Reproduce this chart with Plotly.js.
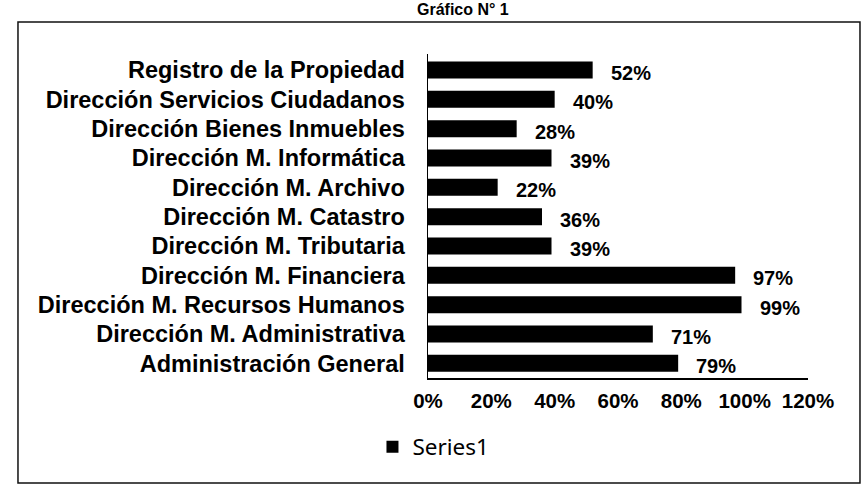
<!DOCTYPE html>
<html>
<head>
<meta charset="utf-8">
<script src="https://cdn.plot.ly/plotly-3.0.1.min.js"></script>
<style>
html,body{margin:0;padding:0;background:#fff;}
#chart{width:863px;height:494px;}
</style>
</head>
<body>
<div id="chart"></div>
<script>
const categories = [
  "Registro de la Propiedad",
  "Dirección Servicios Ciudadanos",
  "Dirección Bienes Inmuebles",
  "Dirección M. Informática",
  "Dirección M. Archivo",
  "Dirección M. Catastro",
  "Dirección M. Tributaria",
  "Dirección M. Financiera",
  "Dirección M. Recursos Humanos",
  "Dirección M. Administrativa",
  "Administración General"
];
const series1 = [0.52, 0.40, 0.28, 0.39, 0.22, 0.36, 0.39, 0.97, 0.99, 0.71, 0.79];
const xTickValues = [0, 0.2, 0.4, 0.6, 0.8, 1.0, 1.2];
const seriesName = "Series1";
const chartTitle = "Gráfico N° 1";

const boldFont = {family: "Liberation Sans, Arial, sans-serif", color: "#000", weight: 700};

const labelAnnotations = series1.map((v, i) => ({
  x: v, y: categories[i], xref: "x", yref: "y",
  text: Math.round(v * 100) + "%",
  showarrow: false, xanchor: "left", yanchor: "middle", xshift: 16, yshift: -3,
  font: Object.assign({}, boldFont, {size: 20})
}));

const data = [{
  type: "bar",
  orientation: "h",
  x: series1,
  y: categories,
  name: seriesName,
  marker: {color: "#000"},
  showlegend: true,
  hoverinfo: "skip"
}];

const layout = {
  width: 863, height: 494,
  margin: {l: 428, r: 55, t: 54, b: 116},
  paper_bgcolor: "#fff",
  plot_bgcolor: "#fff",
  bargap: 0.42,
  showlegend: true,
  legend: {
    orientation: "h",
    xref: "container", yref: "container",
    x: 0.4316, xanchor: "left",
    y: 0.095, yanchor: "middle",
    font: {family: "Noto Sans, Open Sans, sans-serif", size: 22.5, color: "#000"},
    bgcolor: "rgba(0,0,0,0)"
  },
  xaxis: {
    range: [0, 1.2],
    tickvals: xTickValues,
    tickformat: ".0%",
    showgrid: false,
    zeroline: false,
    showline: true,
    linecolor: "#000",
    linewidth: 1.5,
    ticks: "",
    ticklabelstandoff: 4,
    tickfont: Object.assign({}, boldFont, {size: 20.5}),
    fixedrange: true
  },
  yaxis: {
    type: "category",
    autorange: "reversed",
    showgrid: false,
    zeroline: false,
    showline: true,
    linecolor: "#000",
    linewidth: 1.5,
    ticks: "",
    ticklabelstandoff: 17,
    tickfont: Object.assign({}, boldFont, {size: 23.5}),
    fixedrange: true
  },
  annotations: labelAnnotations.concat([{
    xref: "paper", yref: "paper",
    x: 0.092, y: 1.105, xanchor: "center", yanchor: "bottom",
    text: chartTitle, showarrow: false,
    font: Object.assign({}, boldFont, {size: 16})
  }]),
  shapes: [{
    type: "rect", xref: "paper", yref: "paper",
    x0: -1.079, x1: 1.1368, y0: -0.324, y1: 1.0988,
    line: {color: "#111", width: 1.5},
    fillcolor: "rgba(0,0,0,0)",
    layer: "below"
  }]
};

Plotly.newPlot("chart", data, layout, {staticPlot: true, displayModeBar: false});
</script>
</body>
</html>
